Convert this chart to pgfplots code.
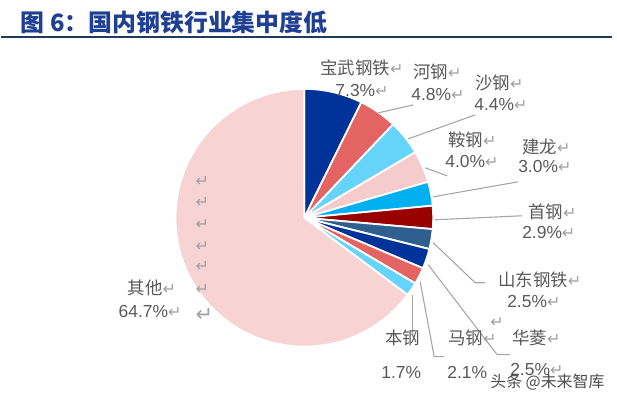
\documentclass[border=0pt]{standalone}
\usepackage{pgfplots}
\pgfplotsset{compat=1.18}
\usepackage{pgfplotstable}
\usepackage{fontspec}
\setmainfont{Liberation Sans}
\newfontfamily\cjk{Noto Sans CJK SC}
\newfontfamily\sym{DejaVu Sans}
\definecolor{slice0}{HTML}{003399}
\definecolor{slice1}{HTML}{E46464}
\definecolor{slice2}{HTML}{66D3FA}
\definecolor{slice3}{HTML}{F6CBCC}
\definecolor{slice4}{HTML}{00B0F0}
\definecolor{slice5}{HTML}{990000}
\definecolor{slice6}{HTML}{2F5F8F}
\definecolor{slice7}{HTML}{003399}
\definecolor{slice8}{HTML}{E46464}
\definecolor{slice9}{HTML}{66D3FA}
\definecolor{slice10}{HTML}{F7D3D4}
\definecolor{labgray}{HTML}{595959}
\definecolor{retgray}{HTML}{A0A0A0}
\definecolor{linegray}{HTML}{A6A6A6}
\definecolor{titleblue}{HTML}{1F3F95}
\definecolor{ruleblue}{HTML}{1F3B5A}
\newcommand{\ret}{{\sym\color{retgray}\fontsize{16}{18}\selectfont ↵}}
\pgfplotstableread{
idx value
0 7.3
1 4.8
2 4.4
3 4.0
4 3.0
5 2.9
6 2.5
7 2.5
8 2.1
9 1.7
10 64.7
}\piedata
\begin{document}
\begin{tikzpicture}
\begin{axis}[scale only axis, width=617bp, height=399bp,
  xmin=0, xmax=617, ymin=0, ymax=399, hide axis, clip=false]
\def\cum{0}
\pgfplotsforeachungrouped \i in {0,...,10}{%
  \pgfplotstablegetelem{\i}{value}\of\piedata
  \let\v\pgfplotsretval
  \pgfmathsetmacro{\a}{90-3.6*\cum}%
  \pgfmathsetmacro{\cumnew}{\cum+\v}%
  \pgfmathsetmacro{\b}{90-3.6*\cumnew}%
  \let\cum\cumnew
  \ifnum\i=10 \def\b{-270}\fi
  \edef\temp{\noexpand\addplot[fill=slice\i, draw=white, line width=1.8pt, line join=round, domain=\b:\a, samples=100, variable=\noexpand\t] ({304+129*cos(\noexpand\t)},{181+129*sin(\noexpand\t)}) -- (axis cs:304,181) -- cycle;}%
  \temp
}
% leader lines
\begin{scope}[draw=linegray, line width=1.1pt]
\draw (axis cs:378,286) -- (axis cs:413,294);
\draw (axis cs:408,260) -- (axis cs:475,284);
\draw (axis cs:425,231) -- (axis cs:447,223);
\draw (axis cs:433,202) -- (axis cs:518,217);
\draw (axis cs:435,179) -- (axis cs:522,183);
\draw (axis cs:433,156) -- (axis cs:475,116) -- (axis cs:485,116);
\draw (axis cs:428,134) -- (axis cs:497,44) -- (axis cs:510,44);
\draw (axis cs:420,117) -- (axis cs:434,42) -- (axis cs:444,42);
\draw (axis cs:412,104) -- (axis cs:412,66);
\end{scope}
% labels
\begin{scope}[every node/.style={anchor=west, inner sep=0pt, text=labgray, font=\fontsize{17.5}{20}\selectfont}]
\node at (axis cs:320,331) {\cjk 宝武钢铁\ret};
\node at (axis cs:335,308) {7.3\%\ret};
\node at (axis cs:413,327) {\cjk 河钢\ret};
\node at (axis cs:411,304) {4.8\%\ret};
\node at (axis cs:475,316) {\cjk 沙钢\ret};
\node at (axis cs:474,294) {4.4\%\ret};
\node at (axis cs:448,259) {\cjk 鞍钢\ret};
\node at (axis cs:445,237) {4.0\%\ret};
\node at (axis cs:522,252) {\cjk 建龙\ret};
\node at (axis cs:518,232) {3.0\%\ret};
\node at (axis cs:528,187) {\cjk 首钢\ret};
\node at (axis cs:522,166) {2.9\%\ret};
\node at (axis cs:498,119) {\cjk 山东钢铁\ret};
\node at (axis cs:507,97) {2.5\%\ret};
\node at (axis cs:512,61) {\cjk 华菱\ret};
\node at (axis cs:510,29) {2.5\%\ret};
\node at (axis cs:448,61) {\cjk 马钢\ret};
\node at (axis cs:447,26) {2.1\%};
\node at (axis cs:385,61) {\cjk 本钢};
\node at (axis cs:381,26) {1.7\%};
\node at (axis cs:127,111) {\cjk 其他\ret};
\node at (axis cs:118,87) {64.7\%\ret};
\end{scope}
\begin{scope}[every node/.style={inner sep=0pt}]
\node at (axis cs:497,76) {\ret};
\node at (axis cs:202,217) {\ret};
\node at (axis cs:202,196) {\ret};
\node at (axis cs:202,174) {\ret};
\node at (axis cs:202,152) {\ret};
\node at (axis cs:202,132) {\ret};
\node at (axis cs:202,109) {\ret};
\node at (axis cs:204,84) {{\sym\color{retgray}\fontsize{21}{24}\selectfont ↵}};
\end{scope}
% title
\node[anchor=west, inner sep=0pt, text=titleblue, font=\cjk\bfseries\fontsize{24}{28}\selectfont] at (axis cs:20,377) {图 6：国内钢铁行业集中度低};
\draw[ruleblue, line width=1.2pt] (axis cs:0,362) -- (axis cs:612,362);
% watermark
\node[anchor=west, inner sep=0pt, text=black!70, font=\cjk\fontsize{16}{19}\selectfont] at (axis cs:490,16) {头条 @未来智库};
\path (axis cs:0,0) rectangle (axis cs:617,399);
\end{axis}
\end{tikzpicture}
\end{document}
